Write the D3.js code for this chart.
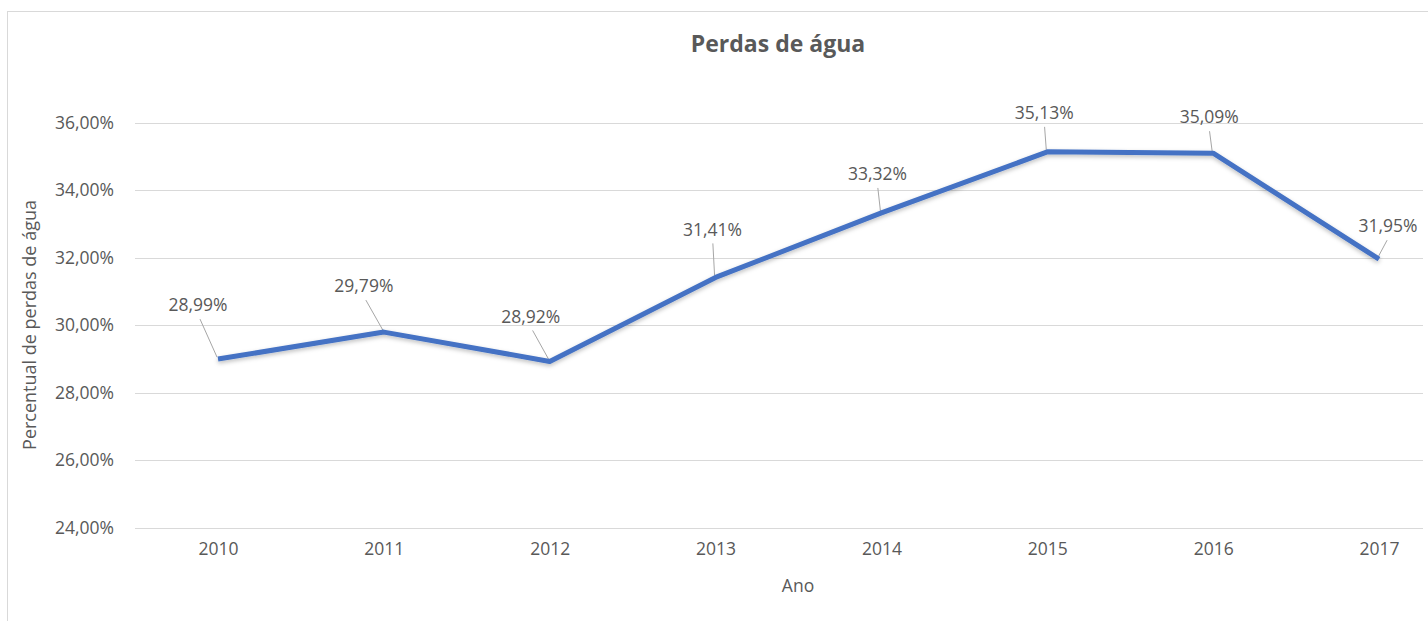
<!DOCTYPE html>
<html lang="pt">
<head>
<meta charset="UTF-8">
<title>Perdas de água</title>
<style>
  body { margin: 0; background: #fff; overflow: hidden; }
  text { font-family: "Open Sans", sans-serif; fill: #595959; }
  .grid line { stroke: #d9d9d9; stroke-width: 1; }
  .line { fill: none; stroke: #4472c4; stroke-width: 5; stroke-linejoin: round; }
  .leader { stroke: #a6a6a6; stroke-width: 1; }
</style>
</head>
<body>
<svg id="chart" width="1428" height="621"></svg>
<script src="https://d3js.org/d3.v7.min.js"></script>
<script>
// data
const years = ["2010", "2011", "2012", "2013", "2014", "2015", "2016", "2017"];
const losses = [28.99, 29.79, 28.92, 31.41, 33.32, 35.13, 35.09, 31.95];
const yTicks = [24, 26, 28, 30, 32, 34, 36];
// where each data label sits relative to its point (dragged by hand in the original)
const labelOffsets = [[-20, -54], [-20, -46], [-19, -45], [-3, -48], [-4, -39], [-3, -39], [-4, -36], [9, -33]];

const fmt = v => v.toFixed(2).replace(".", ",") + "%";

const svg = d3.select("#chart");

// chart frame
svg.append("rect")
    .attr("x", 7.5).attr("y", 11.5)
    .attr("width", 1440).attr("height", 620)
    .attr("fill", "none").attr("stroke", "#d9d9d9");

const x = d3.scalePoint()
    .domain(years)
    .range([218, 1379]);

const y = d3.scaleLinear()
    .domain([24, 36])
    .range([527.5, 122.5]);

const plotLeft = 135, plotRight = 1423;

// gridlines
svg.append("g").attr("class", "grid")
  .selectAll("line")
  .data(yTicks)
  .join("line")
    .attr("x1", plotLeft).attr("x2", plotRight)
    .attr("y1", d => Math.round(y(d)) + 0.5)
    .attr("y2", d => Math.round(y(d)) + 0.5);

// y axis
const yAxis = svg.append("g")
    .attr("transform", `translate(${plotLeft},0)`)
    .call(d3.axisLeft(y).tickValues(yTicks).tickFormat(fmt).tickSize(0).tickPadding(21));
yAxis.select(".domain").remove();
yAxis.selectAll("text").style("font-size", "17.5px").attr("fill", "#595959");

// x axis
const xAxis = svg.append("g")
    .attr("transform", `translate(0,${y(24)})`)
    .call(d3.axisBottom(x).tickSize(0).tickPadding(15));
xAxis.select(".domain").remove();
xAxis.selectAll("text").style("font-size", "17.5px").attr("fill", "#595959");

// title
svg.append("text")
    .attr("x", 778).attr("y", 52)
    .attr("text-anchor", "middle")
    .style("font-size", "23px").style("font-weight", "bold")
    .text("Perdas de água");

// axis titles
svg.append("text")
    .attr("transform", "translate(36,325) rotate(-90)")
    .attr("text-anchor", "middle")
    .style("font-size", "18px")
    .text("Percentual de perdas de água");

svg.append("text")
    .attr("x", 798).attr("y", 592)
    .attr("text-anchor", "middle")
    .style("font-size", "17.5px")
    .text("Ano");

// shadow for the line
const defs = svg.append("defs");
const f = defs.append("filter").attr("id", "shadow")
    .attr("x", "-5%").attr("y", "-20%").attr("width", "110%").attr("height", "140%");
f.append("feDropShadow")
    .attr("dx", 0).attr("dy", 2).attr("stdDeviation", 2)
    .attr("flood-color", "#000").attr("flood-opacity", 0.25);

const pts = years.map((yr, i) => ({ year: yr, v: losses[i], off: labelOffsets[i] }));

// leader lines
svg.append("g")
  .selectAll("line")
  .data(pts)
  .join("line")
    .attr("class", "leader")
    .attr("x1", d => x(d.year) + d.off[0] * 0.9)
    .attr("y1", d => y(d.v) + d.off[1] + 14)
    .attr("x2", d => x(d.year) - 1)
    .attr("y2", d => y(d.v) - 2);

// line
const line = d3.line()
    .x(d => x(d.year))
    .y(d => y(d.v));

svg.append("path")
    .datum(pts)
    .attr("class", "line")
    .attr("filter", "url(#shadow)")
    .attr("d", line);

// data labels
svg.append("g")
  .selectAll("text")
  .data(pts)
  .join("text")
    .attr("x", d => x(d.year) + d.off[0])
    .attr("y", d => y(d.v) + d.off[1])
    .attr("dy", "0.35em")
    .attr("text-anchor", "middle")
    .style("font-size", "17.5px")
    .text(d => fmt(d.v));
</script>
</body>
</html>
